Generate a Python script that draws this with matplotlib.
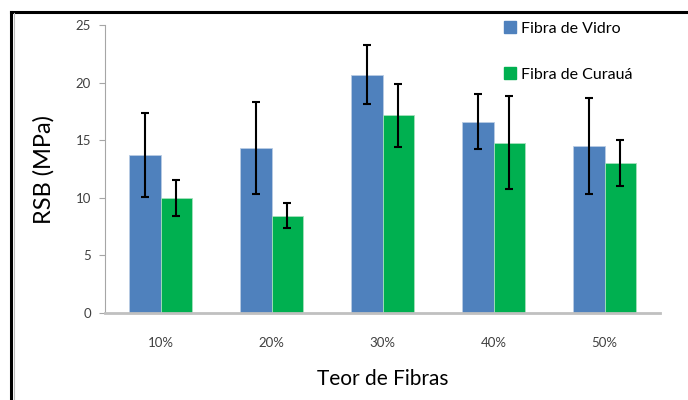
# -*- coding: utf-8 -*-
"""RSB por teor de fibras: vidro x curauá, barras agrupadas com desvio."""
import numpy as np
import matplotlib
matplotlib.use("Agg")
import matplotlib.pyplot as plt
from matplotlib.patches import Patch
from matplotlib.lines import Line2D

categorias = ["10%", "20%", "30%", "40%", "50%"]
vidro = [13.7, 14.3, 20.7, 16.6, 14.5]
vidro_dp = [3.65, 4.0, 2.6, 2.4, 4.15]
curaua = [10.0, 8.45, 17.15, 14.8, 13.0]
curaua_dp = [1.55, 1.1, 2.75, 4.0, 2.0]

AZUL, VERDE = "#4F81BD", "#00B050"
plt.rcParams["font.family"] = ["Lato", "DejaVu Sans"]

W, H = 688, 400
fig = plt.figure(figsize=(W / 100, H / 100), dpi=100)
ax = fig.add_axes([105 / W, 1 - 313 / H, 555 / W, 288 / H])

x = np.arange(len(categorias))
w = 0.284
err_kw = dict(ecolor="black", elinewidth=1.5, capsize=3, capthick=1.5)
ax.bar(x - w / 2, vidro, w, yerr=vidro_dp, color=AZUL, edgecolor="#B8CCE4",
       linewidth=0.6, error_kw=err_kw, label="Fibra de Vidro")
ax.bar(x + w / 2, curaua, w, yerr=curaua_dp, color=VERDE, edgecolor="#A6E0BC",
       linewidth=0.6, error_kw=err_kw, label="Fibra de Curauá")

ax.set_xlim(-0.5, 4.5)
ax.set_ylim(0, 25)
ax.set_yticks(range(0, 26, 5))
ax.set_xticks(x)
ax.set_xticklabels(categorias)

for s in ("top", "right"):
    ax.spines[s].set_visible(False)
ax.spines["left"].set_color("#A6A6A6")
ax.spines["left"].set_linewidth(0.8)
ax.spines["bottom"].set_color("#C0C0C0")
ax.spines["bottom"].set_linewidth(2)
ax.tick_params(axis="y", length=4, width=0.8, color="#A6A6A6",
               labelsize=9.5, labelcolor="#404040", pad=6)
ax.tick_params(axis="x", length=0, labelsize=9.5, labelcolor="#404040", pad=17)

ax.set_ylabel("RSB (MPa)", fontsize=17, labelpad=15)
ax.set_xlabel("Teor de Fibras", fontsize=15, labelpad=15)

handles = [Patch(color=AZUL), Patch(color=VERDE)]
fig.legend(handles, ["Fibra de Vidro", "Fibra de Curauá"],
           loc="upper left", bbox_to_anchor=(490 / W, 1 - 7 / H),
           frameon=False, fontsize=11.5, handlelength=0.7, handleheight=0.7,
           handletextpad=0.35, labelspacing=2.0)

# moldura da figura (esquerda e topo)
fig.add_artist(Line2D([11.5 / W, 11.5 / W], [0, 1 - 11.5 / H], color="black", lw=2.2))
fig.add_artist(Line2D([10.5 / W, 1], [1 - 11.5 / H, 1 - 11.5 / H], color="black", lw=2.2))
fig.add_artist(Line2D([14 / W, 14 / W], [0, 1 - 13 / H], color="#BBBBBB", lw=0.8))

fig.savefig("out.png", dpi=100)
plt.close(fig)
